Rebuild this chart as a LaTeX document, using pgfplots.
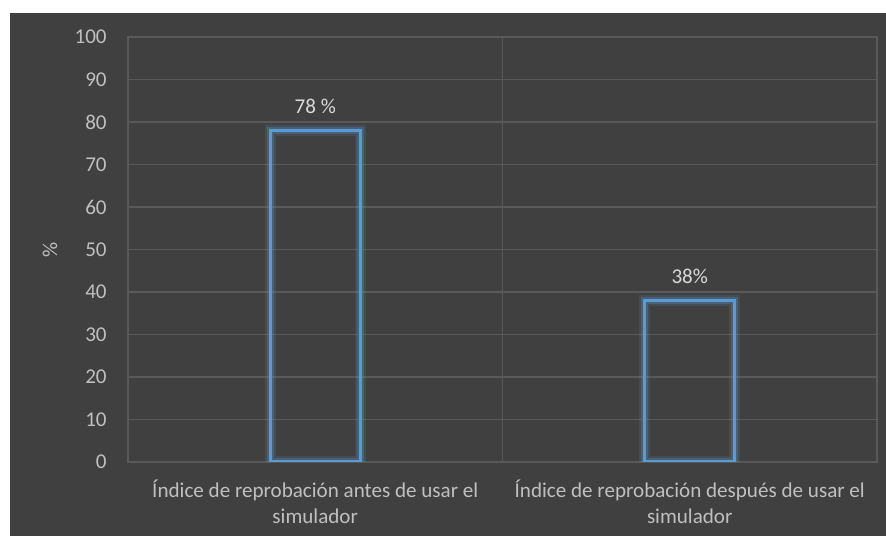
\documentclass[border=0pt]{standalone}
\usepackage{fontspec}
\setmainfont{Carlito}
\usepackage{pgfplots}
\pgfplotsset{compat=1.18}
\definecolor{bgdark}{HTML}{404040}
\definecolor{gridgray}{HTML}{595959}
\definecolor{ticktext}{HTML}{BFBFBF}
\definecolor{labeltext}{HTML}{D9D9D9}
\definecolor{barblue}{HTML}{5B9BD5}

\begin{document}
\begin{tikzpicture}
% white frame and dark chart area (1px = 0.02cm)
\fill[white] (0,0) rectangle (17.72cm,10.72cm);
\fill[bgdark] (0.2cm,0) rectangle (17.72cm,10.46cm);
\begin{axis}[
    at={(2.56cm,1.48cm)}, anchor=south west,
    scale only axis, width=14.98cm, height=8.5cm,
    xmin=-0.5, xmax=1.5, ymin=0, ymax=100,
    axis line style={gridgray, line width=0.85pt},
    ytick={0,10,...,100},
    ymajorgrids,
    major grid style={gridgray, line width=0.85pt},
    xtick={0,1},
    xticklabels={{Índice de reprobación antes de usar el\\simulador},
                 {Índice de reprobación después de usar el\\simulador}},
    extra x ticks={0.5},
    extra x tick labels={},
    extra x tick style={grid=major},
    major tick length=0pt,
    tick style={draw=none},
    /pgf/number format/assume math mode=true,
    yticklabel style={font=\fontsize{12}{14}\selectfont, text=ticktext,
        inner sep=0pt, anchor=east, xshift=-0.42cm},
    xticklabel style={font=\fontsize{12}{15}\selectfont, text=ticktext,
        align=center, inner sep=0pt, anchor=north, yshift=-0.35cm},
    ylabel={\%},
    every axis y label/.style={at={(axis description cs:0,0.5)},
        xshift=-1.56cm, rotate=90, anchor=center,
        font=\fontsize{12}{14}\selectfont, text=ticktext},
    ybar, bar width=1.8cm,
    nodes near coords,
    point meta=explicit symbolic,
    every node near coord/.append style={font=\fontsize{12}{14}\selectfont,
        text=labeltext, inner sep=0pt, anchor=south, yshift=0.31cm},
]
\addplot[draw=barblue, line width=1.7pt, fill=none,
    preaction={draw=barblue, draw opacity=0.15, line width=6.5pt},
    preaction={draw=barblue, draw opacity=0.25, line width=4pt}]
    coordinates {(0,78) [78 \%] (1,38) [38\%]};
\end{axis}
\end{tikzpicture}
\end{document}
